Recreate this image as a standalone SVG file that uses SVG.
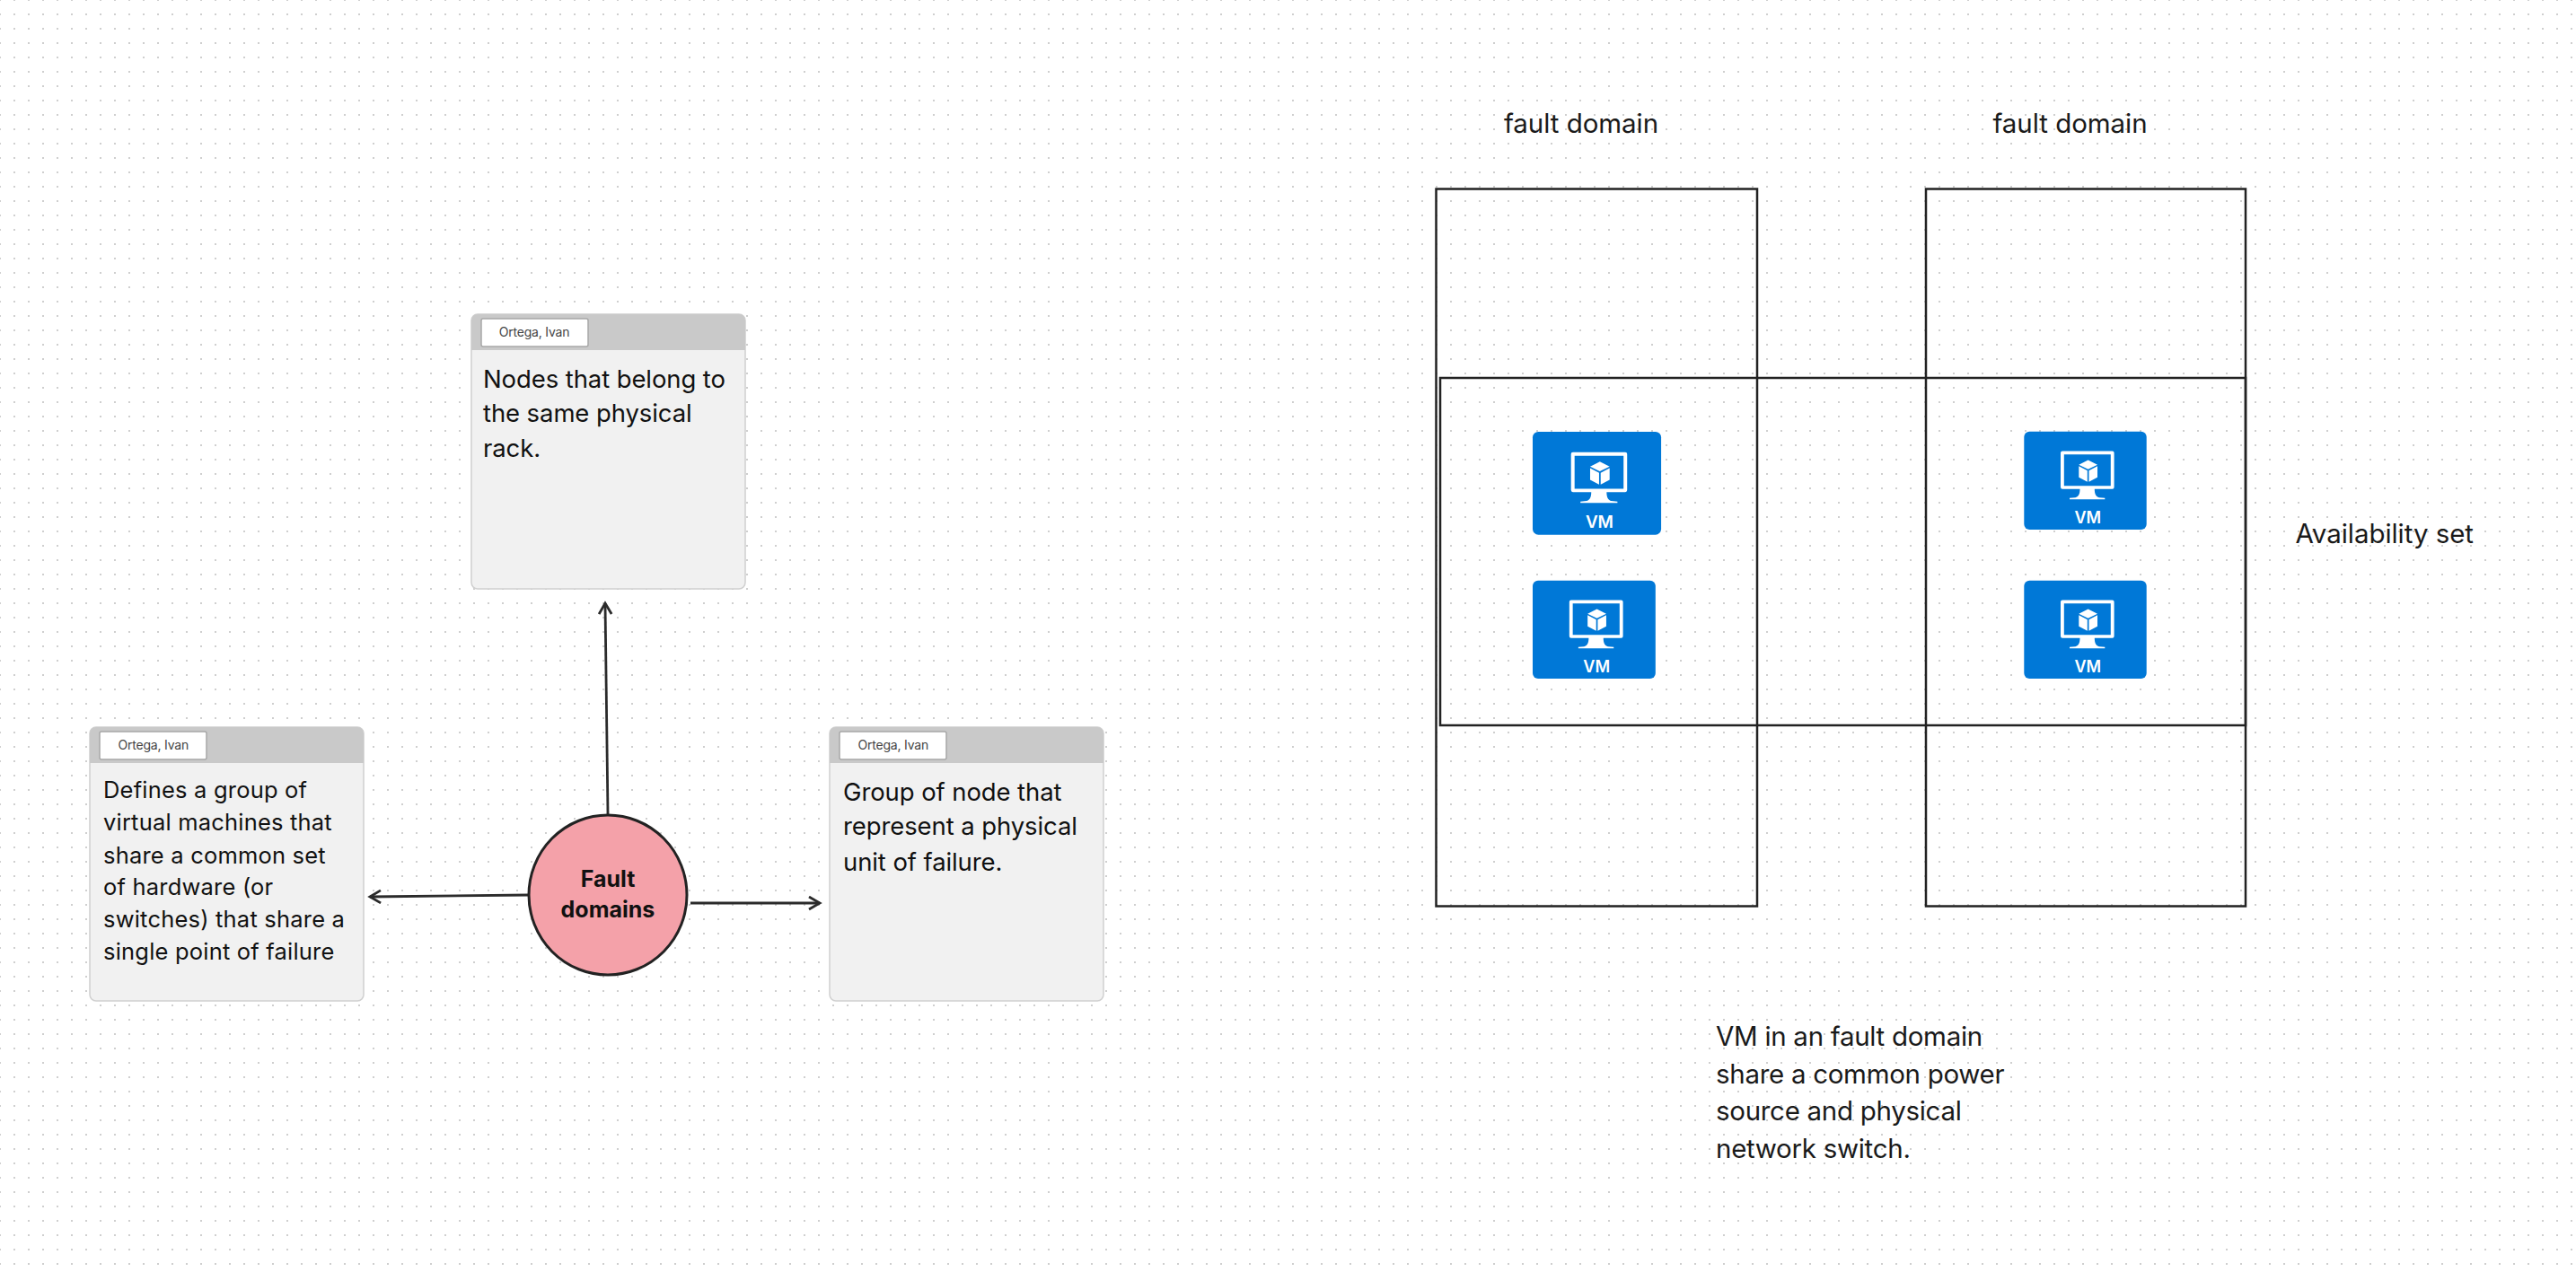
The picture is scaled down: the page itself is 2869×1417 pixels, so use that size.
<svg xmlns="http://www.w3.org/2000/svg" width="2869" height="1417" viewBox="0 0 2869 1417">
<style>
.card{fill:#f1f1f1;stroke:#d0d0d0;stroke-width:1.5}
.head{fill:#c9c9c9}
.tab{fill:#fff;stroke:#a8a8a8;stroke-width:1.5}
.tabt{font:14px Inter,"Noto Sans",sans-serif;letter-spacing:-.2px;fill:#444;text-anchor:middle}
.body{font:27.5px Inter,"Noto Sans",sans-serif;letter-spacing:-.1px;fill:#111}
.small{font-size:25.5px;letter-spacing:.2px}
.lab{font:29.5px Inter,"Noto Sans",sans-serif;letter-spacing:-.3px;fill:#1a1a1a}
.wide{letter-spacing:-.05px}
.box{fill:none;stroke:#222;stroke-width:2.5}
.con{fill:none;stroke:#2b2b2b;stroke-width:2.8;marker-end:url(#arr)}
.vmt{font:600 18px Inter,"Noto Sans",sans-serif;fill:#fff;text-anchor:middle}
.hub{font:700 25px Inter,"Noto Sans",sans-serif;fill:#111;text-anchor:middle}
.w{fill:#fff}
</style>
<defs>
<pattern id="dots" width="16" height="16" patternUnits="userSpaceOnUse"><rect x="15" y="15" width="2" height="2" fill="#cfcfcf"/><rect x="-1" y="15" width="2" height="2" fill="#cfcfcf"/><rect x="15" y="-1" width="2" height="2" fill="#cfcfcf"/><rect x="-1" y="-1" width="2" height="2" fill="#cfcfcf"/></pattern>
<marker id="arr" markerUnits="userSpaceOnUse" markerWidth="16" markerHeight="18" refX="13" refY="8" orient="auto"><path d="M1 1L13 8L1 15" fill="none" stroke="#2b2b2b" stroke-width="2.8"/></marker>
<symbol id="vm" width="136.4" height="109.3" viewBox="0 0 136.4 109.3" overflow="visible">
<rect width="136.4" height="109.3" rx="6" fill="#0078d7"/>
<path class="w" fill-rule="evenodd" d="M42.7 21.7H98.3a2 2 0 0 1 2 2V62a2 2 0 0 1-2 2H78.500c0 6 2 8.500 5 9.500l6.500 .5v1.500H50.700V74l6.500-.5c3-1 5-3.500 5-9.500H42.700a2 2 0 0 1-2-2V23.700a2 2 0 0 1 2-2ZM44.500 25.500V60.500H96.500V25.500Z"/>
<path class="w" d="M71.300 31.700L81.700 37L71.300 42L61 37ZM61 38.500L70.500 43.500V56L61 51ZM81.700 38.500V51L72.200 56V43.500Z"/>
</symbol>
</defs>
<rect width="2869" height="1417" fill="#fff"/>
<rect width="2869" height="1417" fill="url(#dots)"/>

<g id="note-rack"><rect class="card" x="525" y="350" width="305" height="306" rx="7"/><path class="head" d="M525 390V357a7 7 0 0 1 7-7H823a7 7 0 0 1 7 7V390Z"/><rect class="tab" x="536" y="355" width="119" height="31" rx="2"/><text class="tabt" x="595" y="375">Ortega, Ivan</text>
<text class="body"><tspan x="538" y="431.500">Nodes that belong to</tspan><tspan x="538" y="470">the same physical</tspan><tspan x="538" y="509">rack.</tspan></text></g>

<g id="note-define"><rect class="card" x="100" y="810" width="305" height="305" rx="7"/><path class="head" d="M100 850V817a7 7 0 0 1 7-7H398a7 7 0 0 1 7 7V850Z"/><rect class="tab" x="111" y="815" width="119" height="31" rx="2"/><text class="tabt" x="170.700" y="835">Ortega, Ivan</text>
<text class="body small"><tspan x="115" y="889">Defines a group of</tspan><tspan x="115" y="925">virtual machines that</tspan><tspan x="115" y="961.500">share a common set</tspan><tspan x="115" y="997">of hardware (or</tspan><tspan x="115" y="1033">switches) that share a</tspan><tspan x="115" y="1069">single point of failure</tspan></text></g>

<g id="note-group"><rect class="card" x="924" y="810" width="305" height="305" rx="7"/><path class="head" d="M924 850V817a7 7 0 0 1 7-7H1222a7 7 0 0 1 7 7V850Z"/><rect class="tab" x="935" y="815" width="119" height="31" rx="2"/><text class="tabt" x="994.700" y="835">Ortega, Ivan</text>
<text class="body"><tspan x="939" y="891.500">Group of node that</tspan><tspan x="939" y="930">represent a physical</tspan><tspan x="939" y="969.500">unit of failure.</tspan></text></g>

<g id="connectors">
<path class="con" d="M677 907L674 672"/>
<path class="con" d="M589 997L412 999"/>
<path class="con" d="M769 1006H913"/>
</g>

<g id="fault-domains"><ellipse cx="677" cy="997" rx="88" ry="89" fill="#f4a1a9" stroke="#222" stroke-width="3"/><text class="hub"><tspan x="677" y="988">Fault</tspan><tspan x="677" y="1022">domains</tspan></text></g>

<g id="fault-domain-1"><rect class="box" x="1599.500" y="210.500" width="357.500" height="799"/></g>
<g id="fault-domain-2"><rect class="box" x="2145" y="210.500" width="356" height="799"/></g>
<g id="availability-set"><rect class="box" x="1604" y="421" width="897" height="387"/></g>

<g id="vm-a" transform="translate(1707 481) scale(1.049 1.049)"><use href="#vm"/><text class="vmt" x="71" y="102">VM</text></g>
<g id="vm-b" transform="translate(1707 646.700) scale(1.003 1)"><use href="#vm"/><text class="vmt" x="71" y="102">VM</text></g>
<g id="vm-c" transform="translate(2254.300 480.700)"><use href="#vm"/><text class="vmt" x="71" y="102">VM</text></g>
<g id="vm-d" transform="translate(2254.300 646.700)"><use href="#vm"/><text class="vmt" x="71" y="102">VM</text></g>

<text class="lab wide" x="1761" y="148" text-anchor="middle">fault domain</text>
<text class="lab wide" x="2305.500" y="148" text-anchor="middle">fault domain</text>
<text class="lab wide" x="2556.500" y="605">Availability set</text>
<text class="lab"><tspan x="1911" y="1165">VM in an fault domain</tspan><tspan x="1911" y="1206.500">share a common power</tspan><tspan x="1911" y="1248">source and physical</tspan><tspan x="1911" y="1290">network switch.</tspan></text>
</svg>
